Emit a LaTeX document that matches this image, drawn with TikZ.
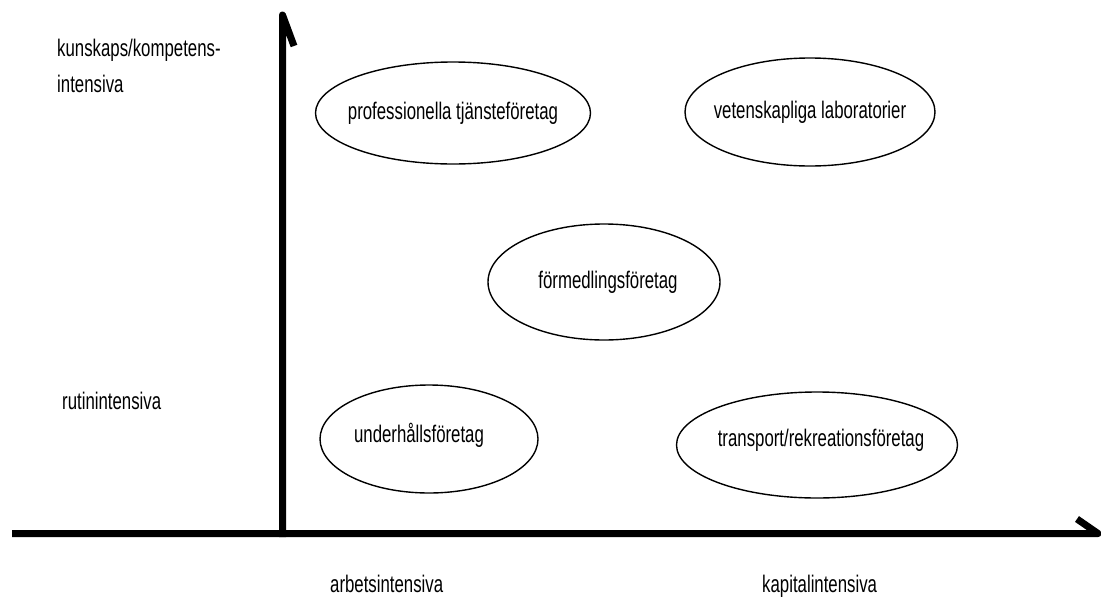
\documentclass[tikz,border=0pt]{standalone}
\usepackage{fontspec}
\setmainfont{Liberation Sans}[FakeStretch=0.70]
\usetikzlibrary{shapes.geometric}
\begin{document}
\begin{tikzpicture}[x=1pt,y=-1pt,
  lbl/.style={font=\fontsize{24}{36}\selectfont, text=black, inner sep=0pt},
  oval/.style={draw=black, ellipse, line width=1.4pt, inner sep=0pt},
  axis/.style={line width=7pt, line join=round, line cap=butt}]
\useasboundingbox (0,0) rectangle (1101,600);
% axes
\coordinate (yb) at (282.5,537);
\coordinate (yt) at (282.5,15);
\coordinate (yh) at (294,46);
\coordinate (xl) at (12,533.5);
\coordinate (xr) at (1098,533.5);
\coordinate (xh) at (1077,519);
\draw[axis] (yb) -- (yt) -- (yh);
\draw[axis] (xl) -- (xr) -- (xh);
% axis labels
\node[lbl, anchor=north west, align=left] (kun) at (57,39) {kunskaps/kompetens-\\intensiva};
\node[lbl, anchor=base west] (rut) at (62,409) {rutinintensiva};
\node[lbl, anchor=base west] (arb) at (330,592) {arbetsintensiva};
\node[lbl, anchor=base west] (kap) at (762,592) {kapitalintensiva};
% ellipses
\node[oval, minimum width=275, minimum height=102,
  label={[lbl]center:professionella tjänsteföretag}] (e1) at (453,113) {};
\node[oval, minimum width=250, minimum height=108,
  label={[lbl]center:vetenskapliga laboratorier}] (e2) at (810,112) {};
\node[oval, minimum width=232, minimum height=116,
  label={[lbl, xshift=4]center:förmedlingsföretag}] (e3) at (604,282) {};
\node[oval, minimum width=218, minimum height=108,
  label={[lbl, xshift=-10, yshift=4]center:underhållsföretag}] (e4) at (429,439) {};
\node[oval, minimum width=281, minimum height=106,
  label={[lbl, xshift=4, yshift=5]center:transport/rekreationsföretag}] (e5) at (817,445) {};
\end{tikzpicture}
\end{document}
